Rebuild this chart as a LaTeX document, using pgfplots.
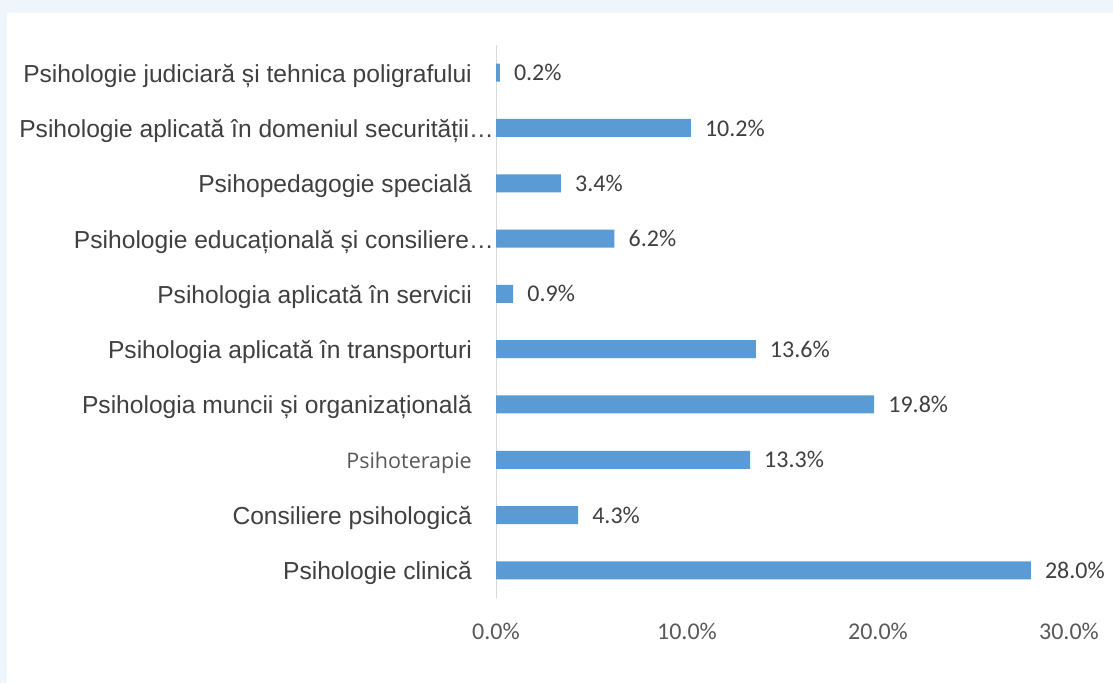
\documentclass[border=0pt]{standalone}
\usepackage{pgfplots}
\pgfplotsset{compat=1.18}
\usepackage{fontspec}
\setmainfont{Liberation Sans}
\newfontfamily\carlito{Carlito}
\newfontfamily\opensans{Open Sans}
\definecolor{barblue}{HTML}{5B9BD5}
\definecolor{bgblue}{HTML}{EEF6FB}
\definecolor{txt}{HTML}{404040}
\definecolor{numtxt}{HTML}{595959}
\definecolor{axisgray}{HTML}{D9D9D9}
\begin{document}
\begin{tikzpicture}
\useasboundingbox (0,0) rectangle (1113pt,683pt);
\fill[bgblue] (0,0) rectangle (1113pt,683pt);
\fill[white] (7pt,0) rectangle (1113pt,670pt);
\begin{axis}[
  at={(496pt,85pt)}, anchor=south west,
  scale only axis, width=573pt, height=553pt,
  xbar, bar width=18pt,
  xmin=0, xmax=30, ymin=-0.5, ymax=9.5,
  axis lines*=left,
  x axis line style={draw=none},
  y axis line style={draw=axisgray, line width=1pt},
  xtick={0,10,20,30},
  xticklabels={0.0\%,10.0\%,20.0\%,30.0\%},
  ytick={0,1,2,3,4,5,6,7,8,9},
  yticklabels={
    Psihologie clinică,
    Consiliere psihologică,
    {{\opensans\fontsize{21.5}{23}\selectfont\color{numtxt}Psihoterapie}},
    Psihologia muncii și organizațională,
    Psihologia aplicată în transporturi,
    Psihologia aplicată în servicii,
    {Psihologie educațională și consiliere…\kern-22pt},
    Psihopedagogie specială,
    {Psihologie aplicată în domeniul securității…\kern-22pt},
    Psihologie judiciară și tehnica poligrafului},
  major tick length=0pt,
  tick style={draw=none},
  xticklabel style={font=\carlito\fontsize{24}{26}\selectfont, text=numtxt, anchor=base, inner sep=0pt, yshift=-41pt},
  yticklabel style={font=\fontsize{24.6}{26}\selectfont, text=txt, anchor=east, inner sep=0pt, xshift=-24pt, yshift=-3pt},
  /pgf/number format/assume math mode=true,
  nodes near coords={\pgfmathprintnumber[fixed,fixed zerofill,precision=1]{\pgfplotspointmeta}\%},
  nodes near coords style={font=\carlito\fontsize{24}{26}\selectfont, text=txt, anchor=west, inner sep=0pt, xshift=14pt},
  clip=false,
]
\addplot[fill=barblue, draw=none] coordinates {
  (28.0,0) (4.3,1) (13.3,2) (19.8,3) (13.6,4)
  (0.9,5) (6.2,6) (3.4,7) (10.2,8) (0.2,9)
};
\end{axis}
\end{tikzpicture}
\end{document}
